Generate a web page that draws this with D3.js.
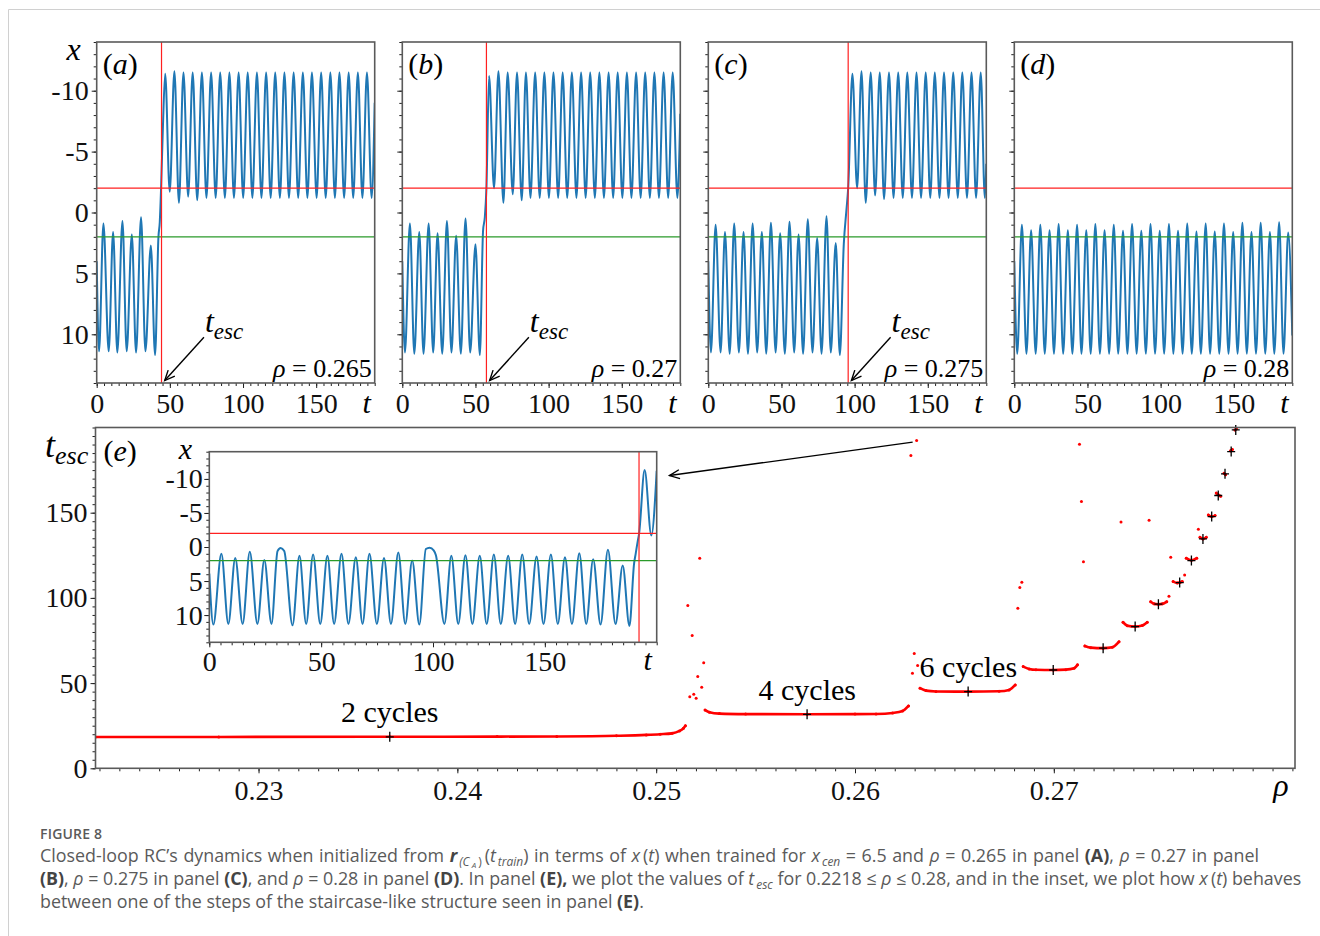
<!DOCTYPE html>
<html><head><meta charset="utf-8">
<script src="https://cdn.jsdelivr.net/npm/d3@7"></script>
<style>
body{margin:0;background:#fff;width:1320px;height:936px;overflow:hidden;position:relative}
svg{position:absolute;left:0;top:0}
#cap{position:absolute;left:40px;top:825px;font-family:'Open Sans',sans-serif;color:#5a5a5a;font-size:17.85px;line-height:23px;white-space:nowrap}
#cap > div{height:23px}
#cap .fig{font-size:14px;font-weight:600;letter-spacing:0.2px;line-height:18px;height:18px;margin-bottom:1px}
#cap .sb{font-size:12px;display:inline-block;vertical-align:-4px;line-height:12px;font-style:italic}
#cap .ss{font-size:8px;display:inline-block;vertical-align:-6px;line-height:8px;margin:0 2px;font-style:italic}
#cap .up{font-style:normal}
#cap .gap{margin-left:2px}
#cap b{font-weight:700;color:#444}
#cap .bi{font-weight:700;font-style:italic;color:#444}
#cap .l1{word-spacing:0.9px}
</style></head>
<body>
<div id="cap">
<div class="fig">FIGURE 8</div>
<div class="l1">Closed-loop RC’s dynamics when initialized from <span class="bi">r</span><span class="sb gap">(C</span><span class="ss">A</span><span class="sb up">)</span>&thinsp;(<i>t</i><span class="sb gap">train</span>) in terms of <i>x</i>&thinsp;(<i>t</i>) when trained for <i>x</i><span class="sb gap">cen</span> = 6.5 and <i>ρ</i> = 0.265 in panel <b>(A)</b>, <i>ρ</i> = 0.27 in panel</div>
<div><b>(B)</b>, <i>ρ</i> = 0.275 in panel <b>(C)</b>, and <i>ρ</i> = 0.28 in panel <b>(D)</b>. In panel <b>(E),</b> we plot the values of <i>t</i><span class="sb gap">esc</span> for 0.2218 ≤ <i>ρ</i> ≤ 0.28, and in the inset, we plot how <i>x</i>&thinsp;(<i>t</i>) behaves</div>
<div>between one of the steps of the staircase-like structure seen in panel <b>(E)</b>.</div>
</div>
<script>
// ---------------- DATA ----------------
// x(t) traces: [t, x] extrema (a)-(d)
const seriesA = [[0,4.0],[1.6,11.4],[4.6,0.9],[8.2,11.4],[11.2,1.6],[14.1,11.5],[17.6,0.7],[20.5,11.4],[24.0,1.8],[26.9,11.5],[30.3,0.4],[33.3,11.4],[37.0,2.7],[39.9,11.7],[42.2,2.0],[43.1,0.8],[44.0,-2.0],[45.2,-6.8],[46.8,-11.4],
 [49.9,-1.7],[53.1,-11.6],[56.2,-0.8],[59.3,-11.5],[62.5,-1.3],[65.6,-11.5],[68.7,-1.0],[71.9,-11.5],[75.0,-1.2],[78.2,-11.5],[81.3,-1.2],[84.4,-11.5],[87.6,-1.2],[90.7,-11.5],[93.8,-1.2],[97.0,-11.5],[100.1,-1.2],[103.2,-11.5],[106.4,-1.2],[109.5,-11.5],[112.6,-1.2],[115.8,-11.5],[118.9,-1.2],[122.0,-11.5],[125.2,-1.2],[128.3,-11.5],[131.4,-1.2],[134.6,-11.5],[137.7,-1.2],[140.9,-11.5],[144.0,-1.2],[147.1,-11.5],[150.3,-1.2],[153.4,-11.5],[156.5,-1.2],[159.7,-11.5],[162.8,-1.2],[165.9,-11.5],[169.1,-1.2],[172.2,-11.5],[175.3,-1.2],[178.5,-11.5],[181.6,-1.2],[184.7,-11.5],[187.9,-1.2],[190,-9.0]];
const seriesB = [[0,4.0],[1.8,11.5],[5.2,0.9],[8.2,11.6],[11.6,1.6],[14.5,11.6],[18.0,0.9],[21.1,11.5],[24.1,1.7],[27.3,11.6],[30.5,0.7],[33.6,11.5],[36.8,1.9],[40.0,11.6],[43.2,0.5],[46.4,11.5],[50.0,2.6],[53.0,11.7],[55.2,1.5],[56.4,0.4],[57.5,-2.0],[59.3,-11.2],
 [62.7,-2.0],[65.7,-11.6],[69.1,-0.8],[72.0,-11.5],[75.5,-1.5],[78.4,-11.5],[81.6,-1.0],[84.5,-11.5],[87.6,-1.2],[90.8,-11.5],[93.9,-1.2],[97.1,-11.5],[100.2,-1.2],[103.3,-11.5],[106.5,-1.2],[109.6,-11.5],[112.7,-1.2],[115.9,-11.5],[119.0,-1.2],[122.2,-11.5],[125.3,-1.2],[128.4,-11.5],[131.6,-1.2],[134.7,-11.5],[137.8,-1.2],[141.0,-11.5],[144.1,-1.2],[147.2,-11.5],[150.4,-1.2],[153.5,-11.5],[156.6,-1.2],[159.8,-11.5],[162.9,-1.2],[166.0,-11.5],[169.2,-1.2],[172.3,-11.5],[175.4,-1.2],[178.6,-11.5],[181.7,-1.2],[184.8,-11.5],[188.0,-1.2],[190,-8.1]];
const seriesC = [[0,4.0],[1.8,11.5],[5.0,1.0],[8.4,11.5],[11.4,1.6],[14.6,11.6],[17.7,0.9],[20.9,11.5],[24.1,1.6],[27.1,11.6],[30.3,0.9],[33.4,11.5],[36.6,1.6],[39.6,11.6],[42.8,0.85],[46.0,11.5],[49.1,1.7],[52.3,11.6],[55.5,0.75],[58.7,11.5],[61.7,1.8],[64.8,11.6],[68.0,0.55],[71.2,11.5],[74.4,2.1],[77.4,11.6],[80.8,0.3],[83.7,11.5],[87.1,2.5],[89.9,11.7],[92.6,2.6],[94.4,-0.2],[95.6,-2.0],[98.5,-11.4],
 [101.7,-2.0],[104.7,-11.6],[107.6,-0.8],[111.0,-11.5],[114.0,-1.4],[117.2,-11.5],[120.1,-1.1],[123.5,-11.5],[126.6,-1.2],[129.8,-11.5],[132.9,-1.2],[136.0,-11.5],[139.2,-1.2],[142.3,-11.5],[145.4,-1.2],[148.6,-11.5],[151.7,-1.2],[154.8,-11.5],[158.0,-1.2],[161.1,-11.5],[164.2,-1.2],[167.4,-11.5],[170.5,-1.2],[173.6,-11.5],[176.8,-1.2],[179.9,-11.5],[183.0,-1.2],[186.2,-11.5],[189.0,-1.2],[190,-4.0]];
const seriesD = [[0,4.0],[2.0,11.6],[5.2,1.0],[8.3,11.6],[11.5,1.45],[14.6,11.6],[17.8,1.0],[20.8,11.6],[24.1,1.45],[27.1,11.6],[30.3,0.95],[33.4,11.6],[36.6,1.45],[39.7,11.6],[42.9,1.0],[45.9,11.6],[49.2,1.45],[52.2,11.6],[55.4,0.95],[58.5,11.6],[61.7,1.45],[64.8,11.6],[68.0,1.0],[71.0,11.6],[74.3,1.5],[77.3,11.6],[80.5,0.95],[83.6,11.6],[86.8,1.5],[89.9,11.6],[93.1,0.95],[96.2,11.6],[99.4,1.5],[102.4,11.6],[105.7,0.95],[108.7,11.6],[111.9,1.5],[115.0,11.6],[118.2,0.9],[121.3,11.6],[124.5,1.55],[127.5,11.6],[130.8,0.9],[133.8,11.6],[137.0,1.55],[140.1,11.6],[143.3,0.9],[146.4,11.6],[149.6,1.6],[152.6,11.6],[155.9,0.85],[158.9,11.6],[162.1,1.6],[165.2,11.6],[168.4,0.85],[171.5,11.6],[174.7,1.6],[177.7,11.6],[181.0,0.8],[184.0,11.6],[187.2,1.65],[190,10.1]];
const seriesInset = [[0,3.9],[1.8,11.4],[5.4,1.0],[8.5,11.3],[11.6,1.6],[14.9,11.3],[18.1,0.7],[21.5,11.3],[24.6,1.9],[27.8,11.3],[30.5,0.6],[31.9,0.15],[33.5,0.6],[37.2,11.5],[40.3,1.3],[43.3,11.3],[46.4,1.1],[49.6,11.3],[52.8,1.3],[55.8,11.3],[59.1,1.0],[62.2,11.3],[65.5,1.5],[68.5,11.3],[71.6,1.0],[74.9,11.3],[78.1,1.6],[81.2,11.3],[84.5,0.8],[87.6,11.3],[90.7,2.0],[93.9,11.4],[96.8,0.3],[98.5,0.1],[100.3,0.5],[101.3,1.2],[105.1,11.3],[108.2,1.3],[111.3,11.3],[114.5,1.2],[117.6,11.3],[120.9,1.3],[124.0,11.3],[127.2,1.1],[130.3,11.3],[133.6,1.3],[136.7,11.3],[139.9,1.1],[143.0,11.3],[146.3,1.4],[149.4,11.3],[152.7,1.1],[155.8,11.3],[159.0,1.5],[162.1,11.3],[165.4,0.9],[168.5,11.3],[171.6,1.8],[174.9,11.4],[178.2,0.4],[181.6,11.3],[184.8,2.7],[187.8,11.6],[189.9,2.4],[190.6,1.0],[191.6,-1.0],[192.1,-1.9],[194.6,-11.3],[197.6,-1.7],[200,-11.2]];

const tEscValues = [44.3, 57.5, 95.6, null];     // red vertical lines in (a)-(c)
const rhoValues = ["0.265", "0.27", "0.275", "0.28"];
const panelLetters = ["a", "b", "c", "d"];
const escThreshold = -2, centerLine = 2;
const tEscInset = 192.1;

// panel (e): t_esc vs rho; steps as [rho, t_esc]
const steps = [
 [[0.2218,18.4],[0.2280,18.4],[0.2366,18.5],[0.2420,18.6],[0.2450,18.7],[0.2480,19.1],[0.2495,19.6],[0.2502,20.0],[0.2508,20.5],[0.25117,21.9],[0.25137,23.5],[0.25147,25.0]],
 [[0.25246,34.2],[0.25268,32.9],[0.25318,32.1],[0.2545,31.8],[0.25759,31.7],[0.2600,31.8],[0.26106,31.9],[0.26189,32.5],[0.26239,33.6],[0.26269,36.6]],
 [[0.26327,47.0],[0.26357,45.6],[0.26407,45.1],[0.26569,45.0],[0.26725,45.2],[0.26775,46.0],[0.26806,48.9]],
 [[0.26846,59.7],[0.26876,58.3],[0.26910,57.8],[0.26997,57.7],[0.27060,57.9],[0.27102,58.7],[0.27119,60.7]],
 [[0.27156,71.8],[0.27186,70.8],[0.27248,70.5],[0.27294,71.0],[0.27328,74.3]],
 [[0.27348,85.7],[0.27370,83.7],[0.27409,83.2],[0.27445,83.8],[0.27470,85.7]],
 [[0.27487,97.8],[0.27504,96.5],[0.27526,96.3],[0.27546,96.5],[0.27568,97.8]],
 [[0.27600,109.6],[0.27621,108.8],[0.27633,109.0],[0.27646,109.6]],
 [[0.27666,123.3],[0.27692,122.1],[0.27719,123.3]],
 [[0.27735,135.6],[0.27750,134.6],[0.27767,135.6]],
 [[0.27777,148.7],[0.27794,147.7],[0.27811,148.3]],
 [[0.27817,161.5],[0.27827,160.5],[0.27839,159.7]],
 [[0.27856,173.2],[0.27864,172.2]],
 [[0.27889,186.3],[0.27898,187.1]],
 [[0.27911,198.6],[0.27918,199.2]]
];
const isolated = [[0.25159,95.5],[0.25181,77.9],[0.25219,123.3],[0.25239,62.0],[0.25209,53.8],[0.25229,47.6],[0.25169,42.0],[0.25189,43.5],[0.25201,41.1],
 [0.26281,183.6],[0.26310,192.4],[0.26298,67.3],[0.26289,55.8],[0.26315,60.3],
 [0.26839,109.2],[0.26829,106.1],[0.26819,93.9],
 [0.27129,190.2],[0.27139,156.6],[0.27149,121.2],
 [0.27338,144.5],[0.27479,145.6],
 [0.27579,101.0],[0.27588,123.9],[0.27658,113.5],[0.27727,140.3]];
const stepCenters = [[0.23660,18.5],[0.25759,31.7],[0.26569,45.0],[0.26997,57.7],[0.27248,70.5],[0.27409,83.2],[0.27526,96.3],[0.27633,109.0],[0.27692,121.9],[0.27750,134.6],[0.27794,147.7],[0.27827,160.1],[0.27861,172.8],[0.27892,185.9],[0.27915,198.6]];
const cycleLabels = [["2 cycles",0.2366,27.0],["4 cycles",0.2576,40.0],["6 cycles",0.2657,53.5]];

const tTicks = [0,50,100,150];
const xTicks = [-10,-5,0,5,10];
const rhoTicks = [0.23,0.24,0.25,0.26,0.27];
const tescTicks = [0,50,100,150];

// ---------------- DRAW ----------------
const W=1320,H=936;
const svg=d3.select('body').insert('svg','#cap').attr('width',W).attr('height',H);
const SERIF="'Liberation Serif','Times New Roman',serif";
const FS=28;
svg.append('path').attr('d','M8.5,936 V9.5 H1320').attr('fill','none').attr('stroke','#d0d0d0').attr('stroke-width',1);

const defs=svg.append('defs');
let clipId=0;
function clip(L,T,w,h){const id='c'+(clipId++);defs.append('clipPath').attr('id',id).append('rect').attr('x',L).attr('y',T).attr('width',w).attr('height',h);return `url(#${id})`;}

function styleAxis(sel){
  sel.select('.domain').remove();
  sel.selectAll('.tick line').attr('stroke','#222').attr('stroke-width',1);
  sel.selectAll('.tick text').attr('font-family',SERIF).attr('font-size',FS).attr('fill','#111');
}
function axes(g,x,y,L,B,xMaj,xMin,yMaj,yMin,xFmt,yFmt,xPad,yPad){
  g.append('g').attr('transform',`translate(0,${B})`).call(d3.axisBottom(x).tickValues(xMin).tickSize(3).tickFormat('')).call(styleAxis);
  g.append('g').attr('transform',`translate(0,${B})`).call(d3.axisBottom(x).tickValues(xMaj).tickSize(5).tickPadding(xPad).tickFormat(xFmt)).call(styleAxis);
  g.append('g').attr('transform',`translate(${L},0)`).call(d3.axisLeft(y).tickValues(yMin).tickSize(3).tickFormat('')).call(styleAxis);
  g.append('g').attr('transform',`translate(${L},0)`).call(d3.axisLeft(y).tickValues(yMaj).tickSize(5).tickPadding(yPad).tickFormat(yFmt)).call(styleAxis);
}
function frame(g,L,T,w,h){
  g.append('rect').attr('x',L).attr('y',T).attr('width',w).attr('height',h).attr('fill','none').attr('stroke','#5a5a5a').attr('stroke-width',1.6);
}
function arrowHead(g,x1,y1,x2,y2,len,ang){
  const a=Math.atan2(y1-y2,x1-x2);
  const p1=[x2+len*Math.cos(a+ang),y2+len*Math.sin(a+ang)], p2=[x2+len*Math.cos(a-ang),y2+len*Math.sin(a-ang)];
  g.append('line').attr('x1',x1).attr('y1',y1).attr('x2',x2).attr('y2',y2).attr('stroke','#000').attr('stroke-width',1.4);
  g.append('path').attr('d',`M${p1[0]},${p1[1]}L${x2},${y2}L${p2[0]},${p2[1]}`).attr('fill','none').attr('stroke','#000').attr('stroke-width',1.4);
}
function tEscText(g,x,y,fs,fsub){
  const t=g.append('text').attr('x',x).attr('y',y).attr('font-family',SERIF).attr('font-style','italic').attr('font-size',fs).attr('fill','#000');
  t.append('tspan').text('t');
  t.append('tspan').attr('font-size',fsub).attr('dy',fs*0.22).text('esc');
  return t;
}
function letter(g,x,y,ch){
  const t=g.append('text').attr('x',x).attr('y',y).attr('font-family',SERIF).attr('font-size',30).attr('fill','#000');
  t.append('tspan').text('(');t.append('tspan').attr('font-style','italic').text(ch);t.append('tspan').text(')');
}
function fmtInt(d){return String(d);}

const panelLefts=[96.7,402.3,708.3,1014.3], PW=278, PT=42, PB=383;
const allSeries=[seriesA,seriesB,seriesC,seriesD];
allSeries.forEach((ser,i)=>{
  const L=panelLefts[i], R=L+PW;
  const x=d3.scaleLinear().domain([0,190]).range([L,R]);
  const y=d3.scaleLinear().domain([-14,14]).range([PT,PB]);
  const g=svg.append('g');
  axes(g,x,y,L,PB,tTicks,d3.range(0,191,5),xTicks,d3.range(-14,15,1),fmtInt,i===0?fmtInt:()=> '',5,3);
  const pg=g.append('g').attr('clip-path',clip(L,PT,PW,PB-PT));
  pg.append('path').datum(ser).attr('d',d3.line().x(d=>x(d[0])).y(d=>y(d[1])).curve(d3.curveMonotoneX)).attr('fill','none').attr('stroke','#1f77b4').attr('stroke-width',2);
  pg.append('line').attr('x1',L).attr('x2',R).attr('y1',y(escThreshold)).attr('y2',y(escThreshold)).attr('stroke','#ff2020').attr('stroke-width',1.2);
  pg.append('line').attr('x1',L).attr('x2',R).attr('y1',y(centerLine)).attr('y2',y(centerLine)).attr('stroke','#2a9a2a').attr('stroke-width',1.4);
  const te=tEscValues[i];
  if(te!==null){
    pg.append('line').attr('x1',x(te)).attr('x2',x(te)).attr('y1',PT).attr('y2',PB).attr('stroke','#ff2020').attr('stroke-width',1.2);
    arrowHead(g,x(te+29),y(10.25),x(te+2.2),y(13.8),11,0.42);
    tEscText(g,x(te+29)+1,y(9.84),32,23);
  }
  frame(g,L,PT,PW,PB-PT);
  letter(g,L+6,PT+32,panelLetters[i]);
  g.append('text').attr('x',R-3).attr('y',PB-6).attr('text-anchor','end').attr('font-family',SERIF).attr('font-size',26)
    .html(`<tspan font-style="italic">ρ</tspan> = ${rhoValues[i]}`);
  g.append('text').attr('x',R-8).attr('y',PB+30).attr('text-anchor','middle').attr('font-family',SERIF).attr('font-style','italic').attr('font-size',30).text('t');
  if(i===0){
    g.append('text').attr('x',L-23).attr('y',PT+18).attr('text-anchor','middle').attr('font-family',SERIF).attr('font-style','italic').attr('font-size',32).text('x');
  }
});

// ---- panel (e) ----
const eL=95.5,eR=1295,eT=427.5,eB=768.3;
const xr=d3.scaleLinear().domain([0.2218,0.28213]).range([eL,eR]);
const yt=d3.scaleLinear().domain([0,200]).range([eB,eT]);
const ge=svg.append('g');
axes(ge,xr,yt,eL,eB,rhoTicks,d3.range(222,283).map(d=>d/1000),tescTicks,d3.range(0,201,5),d3.format('.2f'),fmtInt,7,3);
const pe=ge.append('g').attr('clip-path',clip(eL,eT-3,eR-eL,eB-eT+3));
const stepLine=d3.line().x(d=>xr(d[0])).y(d=>yt(d[1])).curve(d3.curveMonotoneX);
steps.forEach(s=>{
  pe.append('path').datum(s).attr('d',stepLine).attr('fill','none').attr('stroke','#ff0000').attr('stroke-width',2.6).attr('stroke-linecap','round');
  pe.selectAll(null).data(s).enter().append('circle').attr('cx',d=>xr(d[0])).attr('cy',d=>yt(d[1])).attr('r',1.5).attr('fill','#ff0000');
});
pe.selectAll(null).data(isolated).enter().append('circle').attr('cx',d=>xr(d[0])).attr('cy',d=>yt(d[1])).attr('r',1.5).attr('fill','#ff0000');
pe.selectAll(null).data(stepCenters).enter().append('path')
  .attr('d',d=>{const cx=xr(d[0]),cy=yt(d[1]);return `M${cx-4},${cy}H${cx+4}M${cx},${cy-5}V${cy+5}`;})
  .attr('stroke','#000').attr('stroke-width',1.3).attr('fill','none');
cycleLabels.forEach(c=>{
  ge.append('text').attr('x',xr(c[1])).attr('y',yt(c[2])).attr('text-anchor','middle').attr('font-family',SERIF).attr('font-size',30).attr('fill','#000').text(c[0]);
});
frame(ge,eL,eT,eR-eL,eB-eT);
letter(ge,eL+8,eT+33,'e');
tEscText(ge,45,eT+29,36,26);
ge.append('text').attr('x',1281).attr('y',eB+28).attr('text-anchor','middle').attr('font-family',SERIF).attr('font-style','italic').attr('font-size',32).text('ρ');
arrowHead(ge,xr(0.2629),yt(191.4),xr(0.25067),yt(171.8),11,0.42);

// ---- inset ----
const iL=209.3,iR=656.7,iT=451.7,iB=642.3;
const xi=d3.scaleLinear().domain([0,200]).range([iL,iR]);
const yi=d3.scaleLinear().domain([-14,14]).range([iT,iB]);
const gi=svg.append('g');
gi.append('rect').attr('x',iL).attr('y',iT).attr('width',iR-iL).attr('height',iB-iT).attr('fill','#fff');
axes(gi,xi,yi,iL,iB,tTicks,d3.range(0,201,5),xTicks,d3.range(-14,15,1),fmtInt,fmtInt,4,1.5);
const pi=gi.append('g').attr('clip-path',clip(iL,iT,iR-iL,iB-iT));
pi.append('path').datum(seriesInset).attr('d',d3.line().x(d=>xi(d[0])).y(d=>yi(d[1])).curve(d3.curveMonotoneX)).attr('fill','none').attr('stroke','#1f77b4').attr('stroke-width',2);
pi.append('line').attr('x1',iL).attr('x2',iR).attr('y1',yi(escThreshold)).attr('y2',yi(escThreshold)).attr('stroke','#ff2020').attr('stroke-width',1.2);
pi.append('line').attr('x1',iL).attr('x2',iR).attr('y1',yi(centerLine)).attr('y2',yi(centerLine)).attr('stroke','#2a9a2a').attr('stroke-width',1.4);
pi.append('line').attr('x1',xi(tEscInset)).attr('x2',xi(tEscInset)).attr('y1',iT).attr('y2',iB).attr('stroke','#ff2020').attr('stroke-width',1.2);
frame(gi,iL,iT,iR-iL,iB-iT);
gi.append('text').attr('x',iL-24).attr('y',iT+7).attr('text-anchor','middle').attr('font-family',SERIF).attr('font-style','italic').attr('font-size',30).text('x');
gi.append('text').attr('x',iR-9).attr('y',iB+28).attr('text-anchor','middle').attr('font-family',SERIF).attr('font-style','italic').attr('font-size',30).text('t');
</script>
</body></html>
